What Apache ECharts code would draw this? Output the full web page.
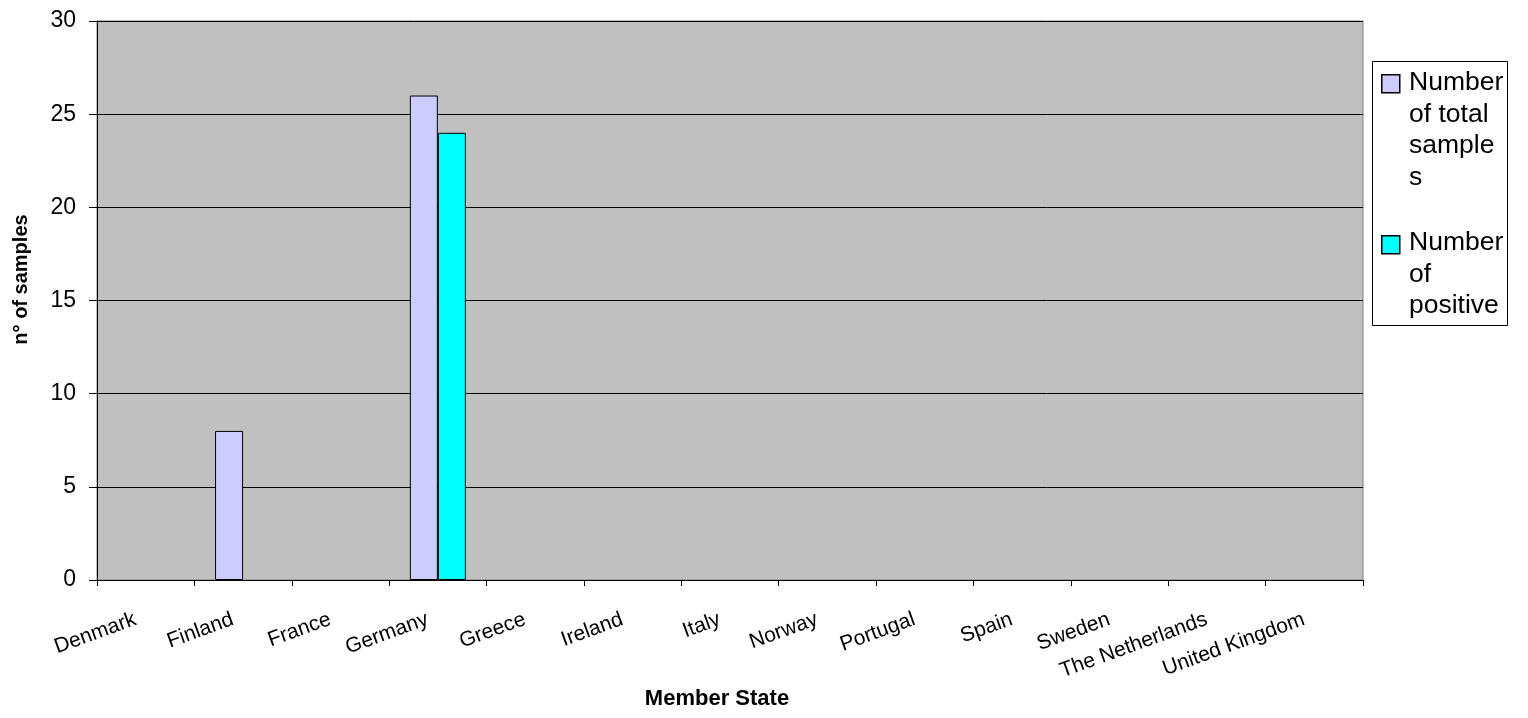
<!DOCTYPE html>
<html>
<head>
<meta charset="utf-8">
<script src="https://cdn.jsdelivr.net/npm/echarts@6/dist/echarts.min.js"></script>
<style>
html,body{margin:0;padding:0;background:#fff;}
#chart{width:1528px;height:718px;}
</style>
</head>
<body>
<div id="chart"></div>
<script>
const categories = ['Denmark','Finland','France','Germany','Greece','Ireland','Italy','Norway','Portugal','Spain','Sweden','The Netherlands','United Kingdom'];
const totalSamples = [0, 8, 0, 26, 0, 0, 0, 0, 0, 0, 0, 0, 0];
const positiveSamples = [0, 0, 0, 24, 0, 0, 0, 0, 0, 0, 0, 0, 0];
const seriesNames = ['Number of total samples', 'Number of positive'];
const legendLabels = ['Number\nof total\nsample\ns', 'Number\nof\npositive'];
const colors = ['#CCCCFF', '#00FFFF'];
const yTicks = [0, 5, 10, 15, 20, 25, 30];

const FONT = '"Liberation Sans", Arial, sans-serif';
const chart = echarts.init(document.getElementById('chart'), null, {renderer: 'canvas'});

// zero-height bars are not drawn in the reference
const asBars = arr => arr.map(v => (v === 0 ? null : v));

const option = {
  animation: false,
  backgroundColor: '#ffffff',
  textStyle: {fontFamily: FONT},
  grid: {
    left: 97, top: 21, right: 165, bottom: 138,
    containLabel: false,
    outerBoundsMode: 'none',
    show: true,
    backgroundColor: '#C0C0C0',
    borderColor: '#808080',
    borderWidth: 1
  },
  xAxis: {
    type: 'category',
    data: categories,
    boundaryGap: true,
    name: 'Member State',
    nameLocation: 'middle',
    nameGap: 100,
    nameTextStyle: {fontFamily: FONT, fontSize: 22, fontWeight: 'bold', color: '#000', padding: [0, 26, 0, 0]},
    axisLine: {show: true, lineStyle: {color: '#000', width: 1}},
    axisTick: {show: true, length: 6, interval: 0, alignWithLabel: false, lineStyle: {color: '#000'}},
    axisLabel: {interval: 0, rotate: 20, margin: 35, padding: [0, 11, 0, 0], fontFamily: FONT, fontSize: 21, color: '#000'},
    splitLine: {show: false}
  },
  yAxis: {
    type: 'value',
    min: yTicks[0],
    max: yTicks[yTicks.length - 1],
    interval: 5,
    name: 'n° of samples',
    nameLocation: 'middle',
    nameGap: 66,
    nameTextStyle: {fontFamily: FONT, fontSize: 20, fontWeight: 'bold', color: '#000', padding: [0, 0, 0, 42]},
    axisLine: {show: true, lineStyle: {color: '#000', width: 1}},
    axisTick: {show: true, length: 8, lineStyle: {color: '#000'}},
    axisLabel: {margin: 21, fontFamily: FONT, fontSize: 23, color: '#000'},
    splitLine: {show: true, lineStyle: {color: '#000', width: 1}}
  },
  series: [
    {
      name: seriesNames[0],
      type: 'bar',
      data: asBars(totalSamples),
      barWidth: 28,
      barGap: '0%',
      itemStyle: {color: colors[0], borderColor: '#000', borderWidth: 1}
    },
    {
      name: seriesNames[1],
      type: 'bar',
      data: asBars(positiveSamples),
      barWidth: 28,
      barGap: '0%',
      itemStyle: {color: colors[1], borderColor: '#000', borderWidth: 1}
    }
  ],
  graphic: [
    {type: 'rect', left: 1372, top: 61, shape: {x: 0, y: 0, width: 135, height: 264}, style: {fill: '#fff', stroke: '#000', lineWidth: 1}, z: 10},
    {type: 'rect', left: 1381, top: 74, shape: {x: 0, y: 0, width: 18, height: 18}, style: {fill: colors[0], stroke: '#000', lineWidth: 1.5}, z: 11},
    {type: 'text', left: 1409, top: 67, style: {text: legendLabels[0], font: '26.5px ' + FONT, fill: '#000', lineHeight: 31.5}, z: 11},
    {type: 'rect', left: 1381, top: 235, shape: {x: 0, y: 0, width: 18, height: 18}, style: {fill: colors[1], stroke: '#000', lineWidth: 1.5}, z: 11},
    {type: 'text', left: 1409, top: 227, style: {text: legendLabels[1], font: '26.5px ' + FONT, fill: '#000', lineHeight: 31.5}, z: 11}
  ]
};
chart.setOption(option);
</script>
</body>
</html>
